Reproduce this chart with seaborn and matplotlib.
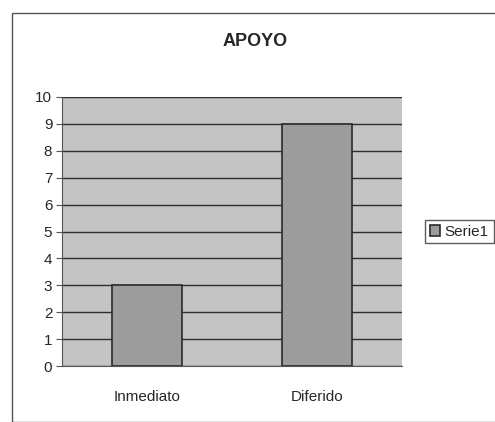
import numpy as np
import pandas as pd
import seaborn as sns
import matplotlib.pyplot as plt
from matplotlib.patches import Rectangle

categories = ['Inmediato', 'Diferido']
values = [3, 9]
series_name = 'Serie1'
y_ticks = list(range(0, 11))

sns.set_style('white')
plt.rcParams['font.family'] = ['Liberation Sans', 'DejaVu Sans']

df = pd.DataFrame({'cat': categories, 'val': values, 'serie': series_name})

fig = plt.figure(figsize=(4.95, 4.22), dpi=100)
fig.patch.set_facecolor('white')
# outer chart frame
fig.patches.append(Rectangle((12 / 495, 0.0), 1.0, 1 - 13 / 422, transform=fig.transFigure,
                             fill=False, edgecolor='#555555', linewidth=1.0))

ax = fig.add_axes([62 / 495, 1 - 366 / 422, 340 / 495, 269 / 422])
ax.set_facecolor('#c4c4c4')

sns.barplot(data=df, x='cat', y='val', hue='serie', palette=['#9c9c9c'],
            width=0.41, edgecolor='#2a2a2a', linewidth=1.2, ax=ax, zorder=3)

ax.set_ylim(0, 10)
ax.set_yticks(y_ticks)
ax.yaxis.grid(True, color='#2e2e2e', linewidth=1.0, zorder=0)
ax.set_axisbelow(True)
ax.set_xlabel('')
ax.set_ylabel('')
fig.text(255 / 495, 1 - 42 / 422, 'APOYO', ha='center', va='center',
         fontsize=13, fontweight='bold')

for side in ['top', 'right']:
    ax.spines[side].set_visible(False)
ax.spines['left'].set_color('#555555')
ax.spines['bottom'].set_color('#555555')
ax.tick_params(axis='y', left=True, length=4, color='#555555', labelsize=11, pad=3)
ax.tick_params(axis='x', bottom=False, labelsize=11, pad=14)

ax.legend(loc='center left', bbox_to_anchor=(1.045, 0.5), frameon=True, fancybox=False,
          edgecolor='#333333', fontsize=11, handlelength=0.7, handleheight=0.7,
          handletextpad=0.3, borderpad=0.3)

fig.savefig('out.png', dpi=100)
